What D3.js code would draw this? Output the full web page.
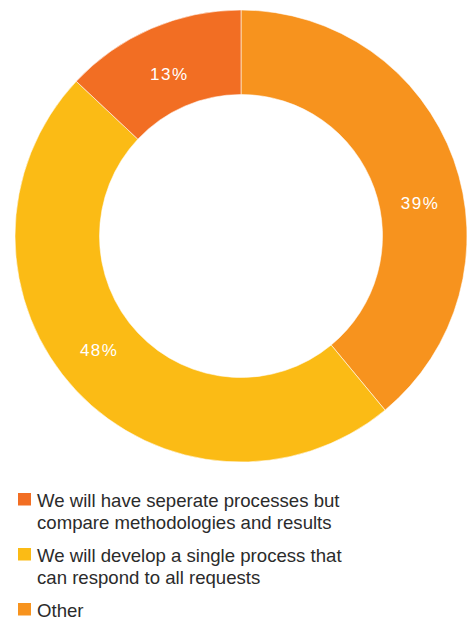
<!DOCTYPE html>
<html>
<head>
<meta charset="utf-8">
<script src="https://cdn.jsdelivr.net/npm/d3@7"></script>
<style>
  html, body { margin: 0; padding: 0; background: #fff; }
  svg { display: block; }
</style>
</head>
<body>
<svg id="chart" width="476" height="622"></svg>
<script>
// Survey responses, in drawing order clockwise from 12 o'clock
const categories = [
  "Other",
  "We will develop a single process that can respond to all requests",
  "We will have seperate processes but compare methodologies and results"
];
const shares = [39, 48, 13];
const valueLabels = ["39%", "48%", "13%"];

// Legend order and wrapped lines
const legendOrder = [2, 1, 0];
const legendLines = [
  ["We will have seperate processes but", "compare methodologies and results"],
  ["We will develop a single process that", "can respond to all requests"],
  ["Other"]
];

const colors = ["#F7931E", "#FBBB15", "#F26E23"];
// small per-label placement tweaks: angle (degrees) and radius (px)
const labelNudge = [9.4, 4.4, -0.5];
const labelRadiusShift = [0, 0, -5];

const svg = d3.select("#chart");
const cx = 241, cy = 236;
const outerR = 226, innerR = 141.5, labelR = 182;

const pie = d3.pie().sort(null).value(d => d)(shares);
const arc = d3.arc().innerRadius(innerR).outerRadius(outerR);

const g = svg.append("g").attr("transform", `translate(${cx},${cy})`);

g.selectAll("path.slice")
  .data(pie)
  .join("path")
  .attr("class", "slice")
  .attr("d", arc)
  .attr("fill", (d, i) => colors[i])
  .attr("stroke", "rgba(255,255,255,0.7)")
  .attr("stroke-width", 0.8);

g.selectAll("text.pct")
  .data(pie)
  .join("text")
  .attr("class", "pct")
  .attr("transform", (d, i) => {
    const a = (d.startAngle + d.endAngle) / 2 + labelNudge[i] * Math.PI / 180;
    const r = labelR + labelRadiusShift[i];
    return `translate(${Math.sin(a) * r},${-Math.cos(a) * r})`;
  })
  .attr("text-anchor", "middle")
  .attr("dy", "0.36em")
  .attr("fill", "#fff")
  .attr("font-family", "'Liberation Sans', Arial, sans-serif")
  .attr("font-size", 17)
  .attr("letter-spacing", 1.5)
  .text((d, i) => valueLabels[i]);

// Legend
const legend = svg.append("g").attr("transform", "translate(18,0)");
const itemTop = [507, 562, 617];
const lineH = 22;

legendOrder.forEach((ci, k) => {
  const item = legend.append("g");
  item.append("rect")
    .attr("x", 0)
    .attr("y", itemTop[k] - 14)
    .attr("width", 13)
    .attr("height", 12.5)
    .attr("fill", colors[ci]);
  const t = item.append("text")
    .attr("font-family", "'Liberation Sans', Arial, sans-serif")
    .attr("font-size", 18.6)
    .attr("fill", "#2b2b2b");
  legendLines[k].forEach((line, j) => {
    t.append("tspan")
      .attr("x", 19)
      .attr("y", itemTop[k] + j * lineH)
      .text(line);
  });
});
</script>
</body>
</html>
